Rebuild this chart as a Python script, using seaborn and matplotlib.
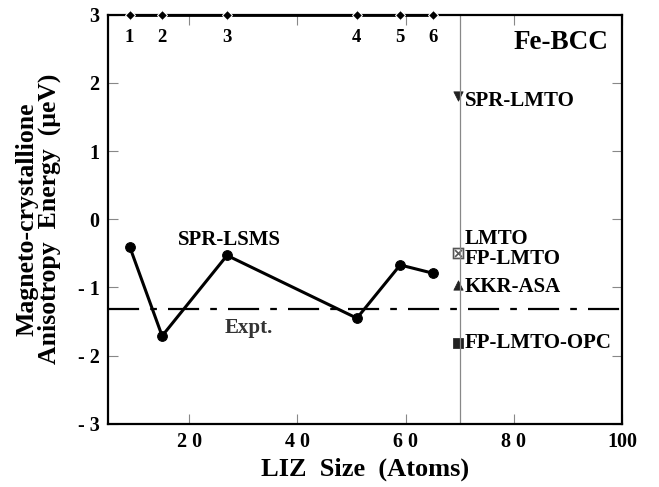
import matplotlib
matplotlib.use("Agg")
import matplotlib.pyplot as plt
import seaborn as sns
import pandas as pd

# data
liz_size = [9, 15, 27, 51, 59, 65]
mae_sprlsms = [-0.40, -1.71, -0.53, -1.45, -0.67, -0.79]
shell_labels = ["1", "2", "3", "4", "5", "6"]
expt_value = -1.31
other_x = 70
other_methods = ["SPR-LMTO", "FP-LMTO", "KKR-ASA", "FP-LMTO-OPC"]
other_values = [1.80, -0.50, -0.97, -1.81]
other_markers = ["v", "X", "^", "s"]

x_ticks = [20, 40, 60, 80, 100]
x_ticklabels = ["2 0", "4 0", "6 0", "8 0", "100"]
y_ticks = [-3, -2, -1, 0, 1, 2, 3]
y_ticklabels = ["- 3", "- 2", "- 1", "0", "1", "2", "3"]

sns.set_style("ticks")
plt.rcParams['font.family'] = ['Liberation Serif', 'DejaVu Serif']
plt.rcParams['font.weight'] = 'bold'
plt.rcParams['text.color'] = 'black'
plt.rcParams['axes.labelcolor'] = 'black'
plt.rcParams['xtick.labelcolor'] = 'black'
plt.rcParams['ytick.labelcolor'] = 'black'

fig = plt.figure(figsize=(6.59, 4.87), dpi=100)
ax = fig.add_axes([0.1639, 0.1294, 0.78, 0.8408])

df = pd.DataFrame({"x": liz_size, "y": mae_sprlsms})
sns.lineplot(data=df, x="x", y="y", ax=ax, color="black", lw=2.2,
             marker="o", markersize=7, markeredgecolor="black")

# top shell markers
top = pd.DataFrame({"x": liz_size, "y": [3] * len(liz_size)})
sns.lineplot(data=top, x="x", y="y", ax=ax, color="black", lw=2,
             marker="D", markersize=5, clip_on=False, zorder=5)
for xv, lab in zip(liz_size, shell_labels):
    ax.text(xv, 2.60, lab, ha="center", va="baseline", fontsize=13.5, fontweight="bold")

# expt line
ax.axhline(expt_value, color="black", lw=1.6, dashes=(14, 5, 3, 5))
ax.axvline(other_x, color="#888888", lw=0.9)

# other methods
for m, v in zip(other_markers, other_values):
    od = pd.DataFrame({"x": [other_x - 0.25], "y": [v]})
    if m == "X":
        sns.scatterplot(data=od, x="x", y="y", ax=ax, marker="$\\boxtimes$", s=70,
                        color="#555555", linewidth=0)
    else:
        sns.scatterplot(data=od, x="x", y="y", ax=ax, marker=m, s=45,
                        color="#222222", edgecolor="#222222")

# label baselines (slightly below marker centres, as in the reference)
label_offsets = [-0.14, -0.15, -0.10, -0.07]
for name, v, off in zip(other_methods, other_values, label_offsets):
    ax.text(71, v + off, name, fontsize=15, fontweight="bold", va="baseline")
ax.text(71, -0.36, "LMTO", fontsize=15, fontweight="bold", va="baseline")
ax.text(97.5, 2.49, "Fe-BCC", fontsize=19.5, fontweight="bold", ha="right", va="baseline")
ax.text(27.4, -0.373, "SPR-LSMS", fontsize=15, fontweight="bold", ha="center", va="baseline")
ax.text(31.1, -1.667, "Expt.", fontsize=15, fontweight="bold", ha="center", va="baseline",
        color="#333333")

ax.set_xlim(5, 100)
ax.set_ylim(-3, 3)
ax.set_xticks(x_ticks)
ax.set_xticklabels(x_ticklabels, fontsize=14.5, fontweight="bold")
ax.set_yticks(y_ticks)
ax.set_yticklabels(y_ticklabels, fontsize=14.5, fontweight="bold")
ax.tick_params(direction="in", length=7, width=0.8, color="#888888",
               top=True, right=True, pad=6)
ax.set_xlabel("LIZ  Size  (Atoms)", fontsize=19, fontweight="bold", labelpad=4)
ax.set_ylabel("Magneto-crystallione\nAnisotropy  Energy  (\u03bceV)", fontsize=18.5,
              fontweight="bold", linespacing=0.95, labelpad=12)
for s in ax.spines.values():
    s.set_linewidth(1.6)
    s.set_color("black")

fig.savefig("out.png", dpi=100)
